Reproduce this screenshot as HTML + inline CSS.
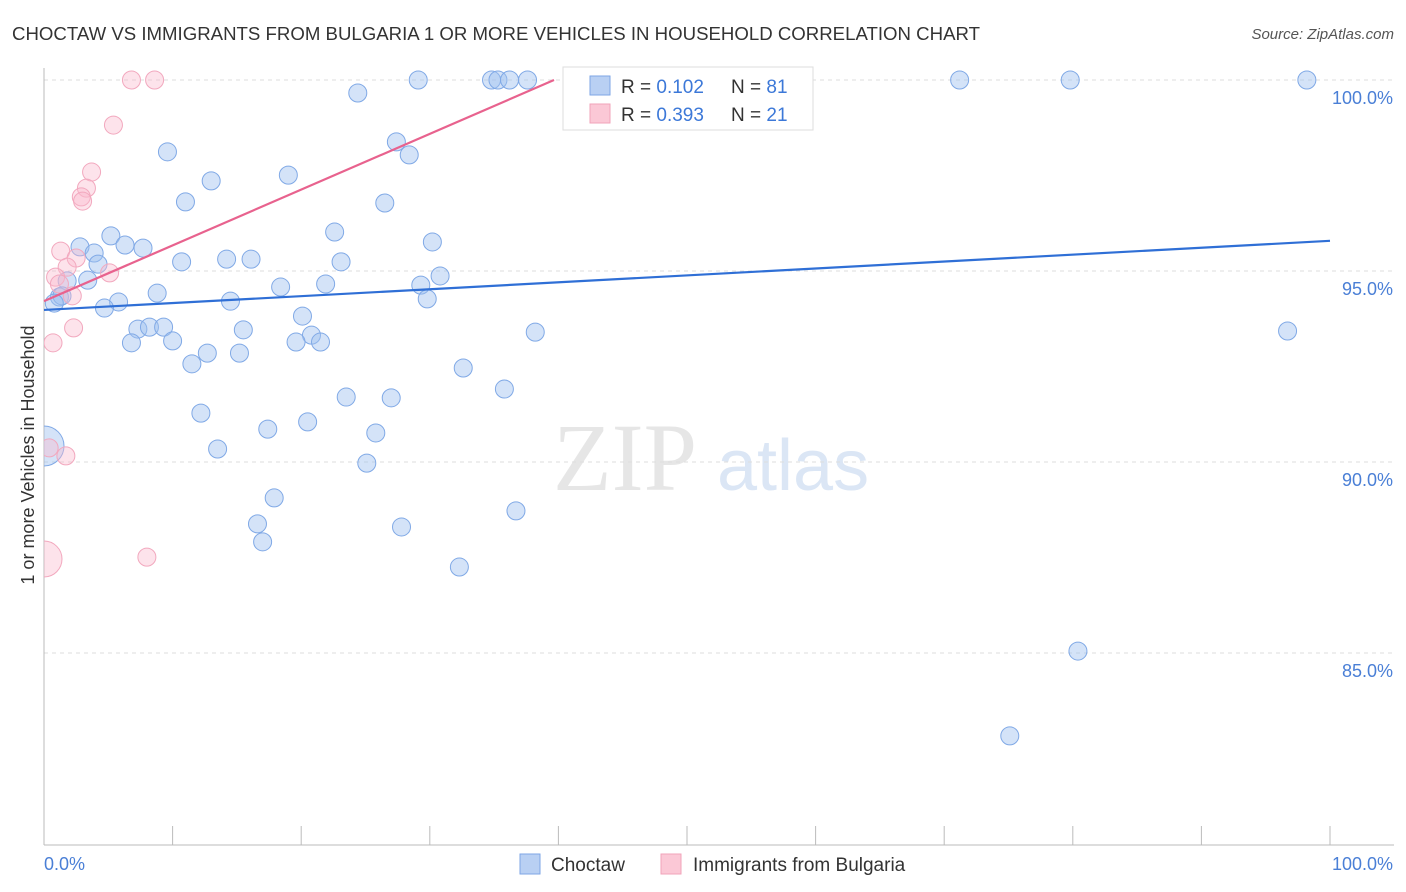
<!DOCTYPE html>
<html><head><meta charset="utf-8"><style>
body{margin:0;background:#fff;font-family:"Liberation Sans",sans-serif}
svg{display:block}
</style></head><body>
<svg id="chart" width="1406" height="892" xmlns="http://www.w3.org/2000/svg">
<defs><clipPath id="plotclip"><rect x="44" y="60" width="1362" height="785"/></clipPath></defs>
<text x="12" y="40" font-size="18" fill="#333" textLength="968" lengthAdjust="spacingAndGlyphs">CHOCTAW VS IMMIGRANTS FROM BULGARIA 1 OR MORE VEHICLES IN HOUSEHOLD CORRELATION CHART</text>
<text x="1394" y="39" font-size="15" fill="#555" font-style="italic" text-anchor="end">Source: ZipAtlas.com</text>
<g>
<text x="553" y="490" font-family="Liberation Serif,serif" font-size="96" fill="#e6e6e6">ZIP</text>
<text x="717" y="490" font-size="72" fill="#dbe6f5">atlas</text>
</g>
<text transform="translate(34,455) rotate(-90)" font-size="18" fill="#333" text-anchor="middle">1 or more Vehicles in Household</text>
<g id="grid"></g>
<g id="axes"></g>
<g id="pts" clip-path="url(#plotclip)"></g>
<g id="lines"></g>
<text x="44" y="870" font-size="18" fill="#4a7fd6">0.0%</text>
<text x="1393" y="870" font-size="18" fill="#4a7fd6" text-anchor="end">100.0%</text>
<g>
<rect x="563" y="67" width="250" height="63" fill="#fff" stroke="#ddd"/>
<rect x="590" y="76" width="20" height="19" fill="#b9d0f3" stroke="#7ea6e6"/>
<rect x="590" y="104" width="20" height="19" fill="#fbc8d6" stroke="#f0a3ba"/>
<text x="621" y="93" font-size="19" fill="#333">R = <tspan fill="#3c78d8">0.102</tspan></text>
<text x="731" y="93" font-size="19" fill="#333">N = <tspan fill="#3c78d8">81</tspan></text>
<text x="621" y="121" font-size="19" fill="#333">R = <tspan fill="#3c78d8">0.393</tspan></text>
<text x="731" y="121" font-size="19" fill="#333">N = <tspan fill="#3c78d8">21</tspan></text>
</g>
<g>
<rect x="520" y="854" width="20" height="20" fill="#b9d0f3" stroke="#7ea6e6"/>
<text x="551" y="871" font-size="19" fill="#333">Choctaw</text>
<rect x="661" y="854" width="20" height="20" fill="#fbc8d6" stroke="#f0a3ba"/>
<text x="693" y="871" font-size="19" fill="#333">Immigrants from Bulgaria</text>
</g>
</svg>
<script>
const yTicks=[100,95,90,85];
const yTickLabels=["100.0%","95.0%","90.0%","85.0%"];
const xTicks=[0,10,20,30,40,50,60,70,80,90,100];
const blueX=[29.1,34.8,35.3,36.2,37.6,71.2,79.8,98.2,24.4,27.4,28.4,9.6,13.0,19.0,11.0,26.5,22.6,30.2,5.2,6.3,7.7,2.8,3.9,10.7,14.2,16.1,4.2,23.1,30.8,3.4,1.8,18.4,21.9,29.3,8.8,1.2,1.4,14.5,29.8,5.8,4.7,0.8,20.1,7.3,8.2,9.3,15.5,20.8,38.2,96.7,6.8,10.0,19.6,21.5,12.7,15.2,11.5,32.6,35.8,23.5,27.0,12.2,20.5,17.4,25.8,13.5,25.1,17.9,36.7,16.6,27.8,17.0,32.3,80.4,75.1,0];
const blueY=[100,100,100,100,100,100,100,100,99.66,98.38,98.04,98.12,97.36,97.51,96.81,96.78,96.02,95.76,95.92,95.68,95.60,95.63,95.47,95.24,95.31,95.31,95.18,95.24,94.87,94.76,94.74,94.58,94.66,94.63,94.42,94.32,94.35,94.21,94.27,94.19,94.03,94.16,93.82,93.48,93.53,93.53,93.46,93.32,93.40,93.43,93.12,93.17,93.14,93.14,92.85,92.85,92.57,92.46,91.91,91.70,91.68,91.28,91.05,90.86,90.76,90.34,89.97,89.06,88.72,88.38,88.30,87.91,87.25,85.05,82.83,90.42];
const blueR=[9,9,9,9,9,9,9,9,9,9,9,9,9,9,9,9,9,9,9,9,9,9,9,9,9,9,9,9,9,9,9,9,9,9,9,9,9,9,9,9,9,9,9,9,9,9,9,9,9,9,9,9,9,9,9,9,9,9,9,9,9,9,9,9,9,9,9,9,9,9,9,9,9,9,9,20];
const pinkX=[6.8,8.6,5.4,3.7,3.3,2.9,3.0,1.3,2.5,1.8,5.1,0.9,1.2,2.2,2.3,0.7,1.7,8.0,0,0.4];
const pinkY=[100,100,98.82,97.59,97.17,96.94,96.83,95.52,95.34,95.10,94.95,94.84,94.66,94.35,93.51,93.12,90.16,87.51,87.46,90.37];
const pinkR=[9,9,9,9,9,9,9,9,9,9,9,9,9,9,9,9,9,9,18,9];
const trendIntercept=[93.98,94.21];
const trendSlope=[0.0181,0.146];
const X=v=>44+v*12.86, Y=v=>80+(100-v)*38.2;
const NS="http://www.w3.org/2000/svg";
function mk(tag,attrs,parent){const e=document.createElementNS(NS,tag);for(const k in attrs)e.setAttribute(k,attrs[k]);document.getElementById(parent).appendChild(e);return e;}
yTicks.forEach((t,i)=>{
 const g=mk('line',{x1:44,x2:1394,y1:Y(t),y2:Y(t),stroke:'#ddd','stroke-dasharray':'4,4'},'grid');
 
 
 const l=mk('text',{x:1393,y:Y(t)+24,'font-size':18,fill:'#4a7fd6','text-anchor':'end'},'grid');
 l.textContent=yTickLabels[i];
 
 
});
const ya=mk('line',{x1:44,x2:44,y1:68,y2:845,stroke:'#bbb'},'axes');


const xa=mk('line',{x1:44,x2:1394,y1:845,y2:845,stroke:'#bbb'},'axes');


xTicks.forEach(t=>{
 const k=mk('line',{x1:X(t),x2:X(t),y1:826,y2:845,stroke:'#bbb'},'axes');
 
 
});
blueX.forEach((x,i)=>{
 const c=mk('circle',{cx:X(x),cy:Y(blueY[i]),r:blueR[i],fill:'rgba(160,192,240,0.45)',stroke:'#80a9e6','stroke-width':1},'pts');
 
 
});
pinkX.forEach((x,i)=>{
 const c=mk('circle',{cx:X(x),cy:Y(pinkY[i]),r:pinkR[i],fill:'rgba(250,185,205,0.4)',stroke:'#f2a8be','stroke-width':1},'pts');
 
 
});
const b=mk('line',{x1:X(0),y1:Y(trendIntercept[0]),x2:X(100),y2:Y(trendIntercept[0]+trendSlope[0]*100),stroke:'#2f6fd6','stroke-width':2.2},'lines');


const xEnd=Math.min(100,(100-trendIntercept[1])/trendSlope[1]);
const p=mk('line',{x1:X(0),y1:Y(trendIntercept[1]),x2:X(xEnd),y2:Y(trendIntercept[1]+trendSlope[1]*xEnd),stroke:'#e8628e','stroke-width':2.2},'lines');


</script>
</body></html>
